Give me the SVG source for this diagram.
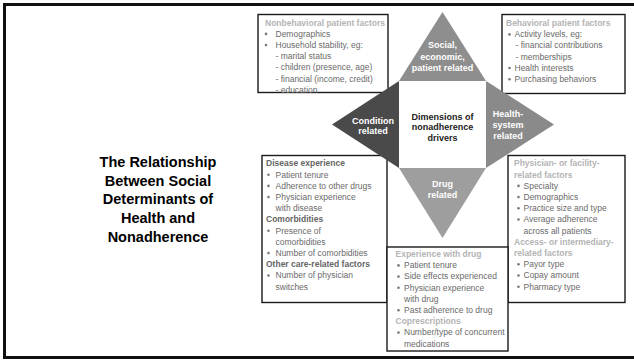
<svg xmlns="http://www.w3.org/2000/svg" width="634" height="360" viewBox="0 0 634 360">
  <style>
    .frame { fill: none; stroke: #111; stroke-width: 3; }
    .box { fill: #fff; stroke: #1a1a1a; stroke-width: 1.4; }
    .title { font-family: "Liberation Sans", Arial, sans-serif; font-size: 14.5px; font-weight: bold; fill: #000; text-anchor: middle; }
    .tri-label { font-family: "Liberation Sans", Arial, sans-serif; font-size: 9px; font-weight: bold; fill: #fff; text-anchor: middle; }
    .core-label { font-family: "Liberation Sans", Arial, sans-serif; font-size: 9px; font-weight: bold; fill: #222; text-anchor: middle; }
    .t { font-family: "Liberation Sans", Arial, sans-serif; font-size: 8.5px; fill: #6a6a6a; }
    .h { font-family: "Liberation Sans", Arial, sans-serif; font-size: 8.5px; font-weight: bold; fill: #b4b4b4; }
    .hd { font-family: "Liberation Sans", Arial, sans-serif; font-size: 8.5px; font-weight: bold; fill: #666; }
    .dot { fill: #7a7a7a; }
  </style>

  <!-- slide frame -->
  <rect class="frame" x="4.5" y="4.5" width="640" height="353"/>

  <!-- slide title -->
  <g id="title">
    <text class="title" x="158" y="167">The Relationship</text>
    <text class="title" x="158" y="185.7">Between Social</text>
    <text class="title" x="158" y="204.4">Determinants of</text>
    <text class="title" x="158" y="223.1">Health and</text>
    <text class="title" x="158" y="241.8">Nonadherence</text>
  </g>

  <!-- factor boxes -->
  <g id="box-nonbehavioral">
    <rect class="box" x="258" y="14.5" width="130" height="78"/>
    <text class="h" x="265" y="25.5">Nonbehavioral patient factors</text>
    <circle class="dot" cx="266" cy="33.9" r="1.3"/>
    <text class="t" x="275.5" y="36.7">Demographics</text>
    <circle class="dot" cx="266" cy="45.1" r="1.3"/>
    <text class="t" x="275.5" y="47.9">Household stability, eg:</text>
    <text class="t" x="275.5" y="59.1">-  marital status</text>
    <text class="t" x="275.5" y="70.3">-  children (presence, age)</text>
    <text class="t" x="275.5" y="81.5">-  financial (income, credit)</text>
    <text class="t" x="275.5" y="92.7">-  education</text>
  </g>

  <g id="box-behavioral">
    <rect class="box" x="502" y="14.5" width="123" height="79"/>
    <text class="h" x="506" y="26">Behavioral patient factors</text>
    <circle class="dot" cx="509.5" cy="34.4" r="1.3"/>
    <text class="t" x="514.5" y="37.2">Activity levels, eg:</text>
    <text class="t" x="515.5" y="48.4">-  financial contributions</text>
    <text class="t" x="515.5" y="59.6">-  memberships</text>
    <circle class="dot" cx="509.5" cy="68" r="1.3"/>
    <text class="t" x="514.5" y="70.8">Health interests</text>
    <circle class="dot" cx="509.5" cy="79.2" r="1.3"/>
    <text class="t" x="514.5" y="82">Purchasing behaviors</text>
  </g>

  <g id="box-condition">
    <rect class="box" x="262" y="155.5" width="125" height="147"/>
    <text class="hd" x="266" y="166.3">Disease experience</text>
    <circle class="dot" cx="268.5" cy="174.7" r="1.3"/>
    <text class="t" x="275.5" y="177.5">Patient tenure</text>
    <circle class="dot" cx="268.5" cy="185.9" r="1.3"/>
    <text class="t" x="275.5" y="188.7">Adherence to other drugs</text>
    <circle class="dot" cx="268.5" cy="197.1" r="1.3"/>
    <text class="t" x="275.5" y="199.9">Physician experience</text>
    <text class="t" x="275.5" y="211.1">with disease</text>
    <text class="hd" x="266" y="222.3">Comorbidities</text>
    <circle class="dot" cx="268.5" cy="230.7" r="1.3"/>
    <text class="t" x="275.5" y="233.5">Presence of</text>
    <text class="t" x="275.5" y="244.7">comorbidities</text>
    <circle class="dot" cx="268.5" cy="253.1" r="1.3"/>
    <text class="t" x="275.5" y="255.9">Number of comorbidities</text>
    <text class="hd" x="266" y="267.1">Other care-related factors</text>
    <circle class="dot" cx="268.5" cy="275.5" r="1.3"/>
    <text class="t" x="275.5" y="278.3">Number of physician</text>
    <text class="t" x="275.5" y="289.5">switches</text>
  </g>

  <g id="box-health-system">
    <rect class="box" x="508" y="155.5" width="117" height="147"/>
    <text class="h" x="514" y="166.3">Physician- or facility-</text>
    <text class="h" x="514" y="177.5">related factors</text>
    <circle class="dot" cx="518.5" cy="185.9" r="1.3"/>
    <text class="t" x="523.5" y="188.7">Specialty</text>
    <circle class="dot" cx="518.5" cy="197.1" r="1.3"/>
    <text class="t" x="523.5" y="199.9">Demographics</text>
    <circle class="dot" cx="518.5" cy="208.3" r="1.3"/>
    <text class="t" x="523.5" y="211.1">Practice size and type</text>
    <circle class="dot" cx="518.5" cy="219.5" r="1.3"/>
    <text class="t" x="523.5" y="222.3">Average adherence</text>
    <text class="t" x="523.5" y="233.5">across all patients</text>
    <text class="h" x="514" y="244.7">Access- or intermediary-</text>
    <text class="h" x="514" y="255.9">related factors</text>
    <circle class="dot" cx="518.5" cy="264.3" r="1.3"/>
    <text class="t" x="523.5" y="267.1">Payor type</text>
    <circle class="dot" cx="518.5" cy="275.5" r="1.3"/>
    <text class="t" x="523.5" y="278.3">Copay amount</text>
    <circle class="dot" cx="518.5" cy="286.7" r="1.3"/>
    <text class="t" x="523.5" y="289.5">Pharmacy type</text>
  </g>

  <g id="box-drug">
    <rect class="box" x="387" y="247" width="121" height="104"/>
    <text class="h" x="395.5" y="257">Experience with drug</text>
    <circle class="dot" cx="398.5" cy="265.4" r="1.3"/>
    <text class="t" x="404" y="268.2">Patient tenure</text>
    <circle class="dot" cx="398.5" cy="276.6" r="1.3"/>
    <text class="t" x="404" y="279.4">Side effects experienced</text>
    <circle class="dot" cx="398.5" cy="287.8" r="1.3"/>
    <text class="t" x="404" y="290.6">Physician experience</text>
    <text class="t" x="404" y="301.8">with drug</text>
    <circle class="dot" cx="398.5" cy="310.2" r="1.3"/>
    <text class="t" x="404" y="313">Past adherence to drug</text>
    <text class="h" x="395.5" y="324.2">Coprescriptions</text>
    <circle class="dot" cx="398.5" cy="332.6" r="1.3"/>
    <text class="t" x="404" y="335.4">Number/type of concurrent</text>
    <text class="t" x="404" y="346.6">medications</text>
  </g>

  <!-- central star: square hub with four driver triangles -->
  <g id="hub">
    <rect x="399" y="81" width="87" height="87" fill="#fff"/>
    <text class="core-label" x="442.5" y="119.5">Dimensions of</text>
    <text class="core-label" x="442.5" y="130">nonadherence</text>
    <text class="core-label" x="442.5" y="140.5">drivers</text>
  </g>

  <g id="driver-social">
    <polygon points="442.5,12 399,81 486,81" fill="#8e8e8e"/>
    <text class="tri-label" x="442.5" y="48">Social,</text>
    <text class="tri-label" x="442.5" y="59.5">economic,</text>
    <text class="tri-label" x="442.5" y="71">patient related</text>
  </g>

  <g id="driver-condition">
    <polygon points="332,124.5 399,81 399,168" fill="#4a4a4a"/>
    <text class="tri-label" x="373" y="123.5">Condition</text>
    <text class="tri-label" x="373" y="134">related</text>
  </g>

  <g id="driver-health-system">
    <polygon points="554,124.5 486,81 486,168" fill="#8a8a8a"/>
    <text class="tri-label" x="508" y="116.5">Health-</text>
    <text class="tri-label" x="508" y="127.5">system</text>
    <text class="tri-label" x="508" y="138.5">related</text>
  </g>

  <g id="driver-drug">
    <polygon points="399,168 486,168 442.5,238" fill="#9e9e9e"/>
    <text class="tri-label" x="442.5" y="186.5">Drug</text>
    <text class="tri-label" x="442.5" y="197.5">related</text>
  </g>

  <!-- no connectors: the star pieces abut directly -->
  <g id="connectors"/>
</svg>
